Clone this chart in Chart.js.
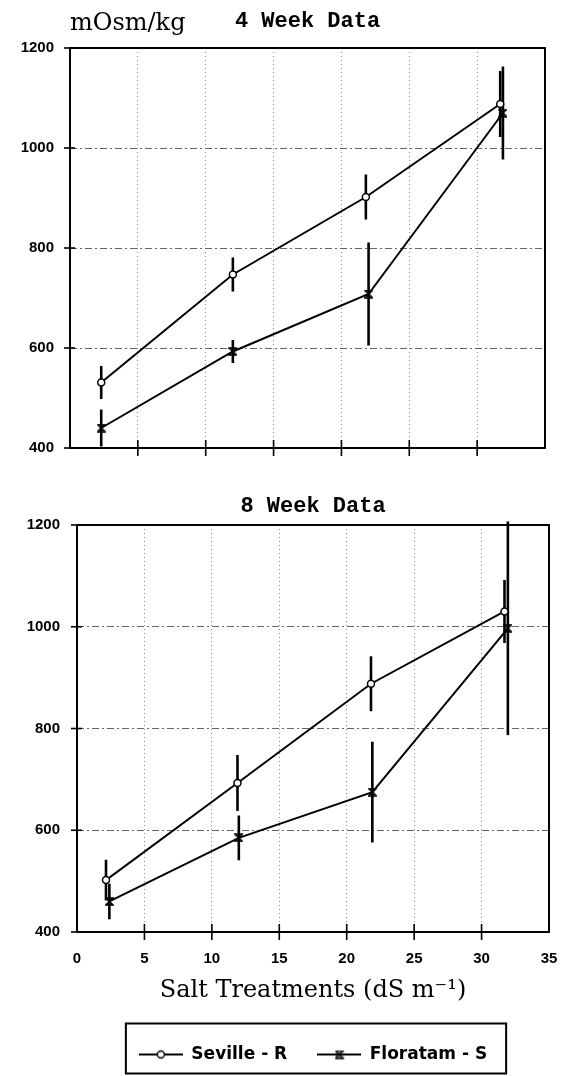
<!DOCTYPE html>
<html>
<head>
<meta charset="utf-8">
<script src="https://cdn.jsdelivr.net/npm/chart.js@4.4.0/dist/chart.umd.min.js"></script>
<style>
  html, body { margin: 0; padding: 0; background: #fff; }
  #wrap { position: relative; width: 563px; height: 1076px; }
  #top { position: absolute; left: 0; top: 0; }
  #bot { position: absolute; left: 0; top: 480px; }
</style>
</head>
<body>
<div id="wrap">
  <canvas id="top" width="563" height="470"></canvas>
  <canvas id="bot" width="563" height="596"></canvas>
</div>
<script>
// axis ticks
const xTicks = [0, 5, 10, 15, 20, 25, 30, 35];
const yTicks = [400, 600, 800, 1000, 1200];

// 4 week data
const sevilleX4 = [2.3, 12.0, 21.8, 31.7];
const seville4 = [531, 747, 902, 1088];
const sevilleErr4 = [33, 34, 45, 66];
const floratamX4 = [2.3, 12.0, 22.0, 31.9];
const floratam4 = [440, 593, 708, 1070];
const floratamErr4 = [37, 23, 103, 93];

// 8 week data
const sevilleX8 = [2.15, 11.9, 21.8, 31.7];
const seville8 = [502, 693, 888, 1030];
const sevilleErr8 = [40, 55, 54, 62];
const floratamX8 = [2.4, 12.0, 21.9, 31.95];
const floratam8 = [460, 585, 675, 997];
const floratamErr8 = [35, 44, 99, 210];

Chart.defaults.color = '#000';

function hourglass(size) {
  const c = document.createElement('canvas');
  c.width = size; c.height = size;
  const g = c.getContext('2d');
  g.strokeStyle = '#000';
  g.lineWidth = 1.6;
  g.beginPath();
  g.moveTo(1, 1); g.lineTo(size - 1, 1); g.lineTo(1, size - 1); g.lineTo(size - 1, size - 1);
  g.closePath();
  g.stroke();
  return c;
}

function legendIcon(kind) {
  const c = document.createElement('canvas');
  c.width = 44; c.height = 12;
  const g = c.getContext('2d');
  g.strokeStyle = '#000';
  g.lineWidth = 2;
  g.beginPath(); g.moveTo(0, 6); g.lineTo(44, 6); g.stroke();
  g.lineWidth = 1.4;
  if (kind === 'circle') {
    g.fillStyle = '#fff';
    g.beginPath(); g.arc(22, 6, 3.5, 0, Math.PI * 2); g.fill(); g.stroke();
  } else {
    g.drawImage(hourglass(9), 17.5, 1.5);
  }
  return c;
}

const floratamMark = hourglass(9);

const framePlugin = {
  id: 'frame',
  beforeDatasetsDraw(chart) {
    const { ctx, scales: { x, y } } = chart;
    ctx.save();
    ctx.strokeStyle = '#000';
    ctx.lineWidth = 2.6;
    chart.data.datasets.forEach(ds => {
      ds.data.forEach((p, i) => {
        const e = ds.errors[i];
        const px = x.getPixelForValue(p.x);
        ctx.beginPath();
        ctx.moveTo(px, y.getPixelForValue(p.y + e));
        ctx.lineTo(px, y.getPixelForValue(p.y - e));
        ctx.stroke();
      });
    });
    ctx.restore();
  },
  afterDraw(chart, args, opts) {
    const { ctx, chartArea: a, scales: { x, y } } = chart;
    ctx.save();
    ctx.strokeStyle = '#000';
    ctx.lineWidth = 2;
    ctx.strokeRect(a.left, a.top, a.right - a.left, a.bottom - a.top);
    ctx.lineWidth = 1.6;
    xTicks.slice(1, -1).forEach(v => {
      const px = x.getPixelForValue(v);
      ctx.beginPath(); ctx.moveTo(px, a.bottom - 8); ctx.lineTo(px, a.bottom + 8); ctx.stroke();
    });
    yTicks.forEach(v => {
      const py = y.getPixelForValue(v);
      ctx.beginPath(); ctx.moveTo(a.left - 6, py); ctx.lineTo(a.left + 5, py); ctx.stroke();
    });
    if (opts.unit) {
      ctx.font = '24px "DejaVu Serif"';
      ctx.fillStyle = '#000';
      ctx.textBaseline = 'alphabetic';
      ctx.fillText(opts.unit, a.left, 30);
    }
    if (opts.legendBox && chart.legend && chart.legend.legendHitBoxes.length) {
      const hb = chart.legend.legendHitBoxes;
      const last = hb[hb.length - 1];
      const cy = hb[0].top + hb[0].height / 2;
      const left = hb[0].left - 13;
      ctx.lineWidth = 2;
      ctx.strokeRect(left, cy - 31, last.left + last.width + 19 - left, 50);
    }
    ctx.restore();
  }
};

function makeChart(id, title, sx, sy, se, fx, fy, fe, cfg) {
  return new Chart(document.getElementById(id), {
    type: 'scatter',
    data: {
      datasets: [
        {
          label: 'Seville - R',
          data: sx.map((v, i) => ({ x: v, y: sy[i] })),
          errors: se,
          showLine: true,
          borderColor: '#000',
          borderWidth: 2,
          pointStyle: 'circle',
          pointRadius: 3.5,
          pointBackgroundColor: '#fff',
          pointBorderColor: '#000',
          pointBorderWidth: 1.5
        },
        {
          label: 'Floratam - S',
          data: fx.map((v, i) => ({ x: v, y: fy[i] })),
          errors: fe,
          showLine: true,
          borderColor: '#000',
          borderWidth: 2,
          pointStyle: floratamMark,
          pointRadius: 4
        }
      ]
    },
    options: {
      responsive: false,
      animation: false,
      devicePixelRatio: 1,
      layout: { padding: { top: 0, left: 0, right: cfg.padRight, bottom: cfg.padBottom } },
      scales: {
        x: {
          type: 'linear',
          min: 0, max: 35,
          afterBuildTicks: s => { s.ticks = xTicks.map(v => ({ value: v })); },
          afterFit: s => { s.height = cfg.xHeight; },
          grid: { color: '#8a8a8a', lineWidth: 1, drawTicks: true, tickLength: 16, tickColor: 'rgba(0,0,0,0)' },
          border: { display: false, dash: [1, 3] },
          ticks: {
            display: cfg.xLabels,
            padding: 2,
            callback: v => String(v),
            font: { family: '"Liberation Sans"', size: 15, weight: 'bold' }
          },
          title: {
            display: cfg.xLabels,
            text: 'Salt Treatments (dS m\u207B\u00B9)',
            font: { family: '"DejaVu Serif"', size: 24 },
            padding: { top: 4, bottom: 11 }
          }
        },
        y: {
          min: 400, max: 1200,
          afterBuildTicks: s => { s.ticks = yTicks.map(v => ({ value: v })); },
          afterFit: s => { s.width = cfg.yWidth; },
          grid: { color: '#666', lineWidth: 1, drawTicks: true, tickLength: cfg.yPad - 2, tickColor: 'rgba(0,0,0,0)' },
          border: { display: false, dash: [7, 3, 2, 3] },
          ticks: {
            padding: 2,
            callback: v => String(v),
            font: { family: '"Liberation Sans"', size: 15, weight: 'bold' }
          }
        }
      },
      plugins: {
        title: {
          display: true,
          text: title,
          fullSize: false,
          font: { family: '"Liberation Mono"', size: 22, weight: 'bold' },
          padding: cfg.titlePad
        },
        legend: {
          display: cfg.legend,
          position: 'bottom',
          fullSize: false,
          labels: {
            usePointStyle: true,
            pointStyleWidth: 44,
            padding: 30,
            font: { family: '"DejaVu Sans"', size: 17, weight: 'bold' },
            generateLabels: chart => chart.data.datasets.map((ds, i) => ({
              text: ds.label,
              pointStyle: legendIcon(i === 0 ? 'circle' : 'hourglass'),
              fillStyle: '#fff',
              strokeStyle: '#000',
              lineWidth: 0,
              hidden: false,
              datasetIndex: i
            }))
          }
        },
        tooltip: { enabled: false },
        frame: { unit: cfg.unit, legendBox: cfg.legend }
      }
    },
    plugins: [framePlugin]
  });
}

makeChart('top', '4 Week Data', sevilleX4, seville4, sevilleErr4, floratamX4, floratam4, floratamErr4, {
  padRight: 18, padBottom: 0, xHeight: 22, yWidth: 70, yPad: 16, xLabels: false,
  legend: false, unit: 'mOsm/kg', titlePad: { top: 8, bottom: 13.6 }
});

makeChart('bot', '8 Week Data', sevilleX8, seville8, sevilleErr8, floratamX8, floratam8, floratamErr8, {
  padRight: 14, padBottom: 3, xHeight: 84, yWidth: 77, yPad: 17, xLabels: true,
  legend: true, unit: null, titlePad: { top: 13, bottom: 5.6 }
});
</script>
</body>
</html>
